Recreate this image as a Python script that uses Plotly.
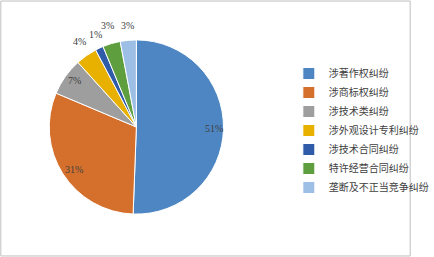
import math
import plotly.graph_objects as go

categories = ["涉著作权纠纷", "涉商标权纠纷", "涉技术类纠纷", "涉外观设计专利纠纷",
              "涉技术合同纠纷", "特许经营合同纠纷", "垄断及不正当竞争纠纷"]
values = [51, 31, 7, 4, 1.5, 3.3, 3]
labels_text = ["51%", "31%", "7%", "4%", "1%", "3%", "3%"]
colors = ["#4E86C3", "#D5702C", "#9E9E9E", "#E8B100", "#2F5BA8", "#5E9E3E", "#9DBFE6"]
label_radius = [0.89, 0.85, 0.87, 1.13, 1.11, 1.15, 1.11]  # fraction of pie radius

W, H = 434, 257
cx, cy, r = 144, 127, 92

fig = go.Figure(go.Pie(
    labels=categories, values=values, textinfo="none",
    sort=False, direction="clockwise", rotation=0,
    marker=dict(colors=colors, line=dict(color="white", width=1)),
    domain=dict(x=[(cx - r) / W, (cx + r) / W], y=[1 - (cy + r) / H, 1 - (cy - r) / H]),
))

# data labels placed at the mid-angle of each slice
total = sum(values)
cum = 0.0
annotations = []
for v, t, f in zip(values, labels_text, label_radius):
    mid = (cum + v / 2) / total * 2 * math.pi
    cum += v
    px = cx + f * r * math.sin(mid)
    py = cy - f * r * math.cos(mid)
    annotations.append(dict(x=px / W, y=1 - py / H, xref="paper", yref="paper",
                            text=t, showarrow=False, xanchor="center", yanchor="middle",
                            font=dict(family="Liberation Serif, serif", size=10, color="#404040")))

fig.update_layout(
    width=W, height=H, margin=dict(l=0, r=0, t=0, b=0),
    paper_bgcolor="white", plot_bgcolor="white",
    showlegend=True,
    legend=dict(x=305 / W, y=1 - 130.5 / H, xanchor="left", yanchor="middle",
                font=dict(family="Noto Sans CJK SC", size=10, color="#404040"),
                itemwidth=30, tracegroupgap=0, bgcolor="rgba(0,0,0,0)"),
    annotations=annotations,
    shapes=[dict(type="rect", xref="paper", yref="paper", x0=0.002, x1=0.998,
                 y0=0.004, y1=0.996, line=dict(color="#BFBFBF", width=1))],
)

fig.write_html("out.html")
